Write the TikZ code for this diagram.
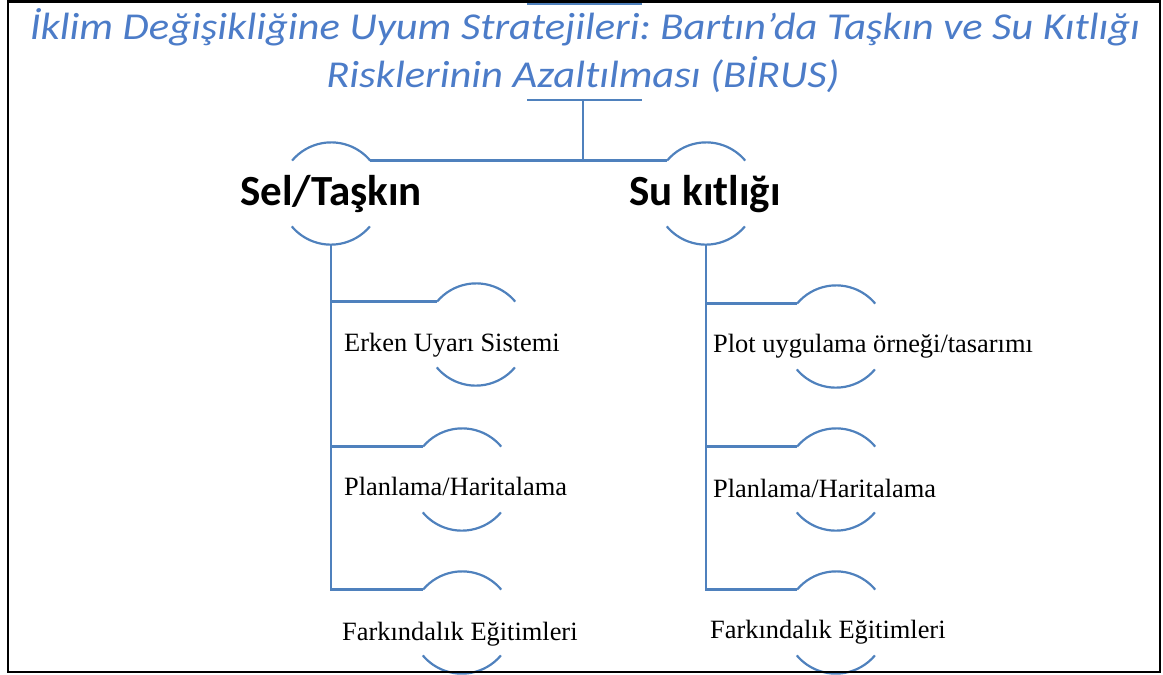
\documentclass[tikz,border=0pt]{standalone}
\usepackage{fontspec}
\setmainfont{Liberation Serif}
\newfontfamily\calibri[Ligatures=NoCommon]{Carlito}
\frenchspacing
\definecolor{lineblue}{RGB}{79,129,189}
\definecolor{titleblue}{RGB}{76,124,200}
\tikzset{
  conn/.style={draw=lineblue, line width=2.2pt},
  ring/.style={circle, minimum size=102pt, inner sep=0pt, draw=none},
  titletext/.style={font=\calibri\itshape\fontsize{38}{44}\selectfont, text=titleblue, anchor=base, inner sep=0pt, xscale=1.12},
  headtext/.style={font=\calibri\bfseries\fontsize{43}{50}\selectfont, anchor=base, inner sep=0pt},
  itemtext/.style={font=\fontsize{26.4}{30}\selectfont, anchor=base west, inner sep=0pt},
}
\begin{document}
\begin{tikzpicture}[x=1pt,y=-1pt]
\useasboundingbox (0,0) rectangle (1163,675);
% title
\node[titletext] (t1) at (585,39) {İklim Değişikliğine Uyum Stratejileri: Bartın’da Taşkın ve Su Kıtlığı};
\node[titletext] (t2) at (583,87) {Risklerinin Azaltılması (BİRUS)};
\coordinate (tbl) at (527,100);
\coordinate (tbr) at (642,100);
\coordinate (tbm) at (583,100);
\coordinate (ttl) at (527,3.5);
\coordinate (ttr) at (642,3.5);
\draw[conn] (ttl) -- (ttr);
\draw[conn] (tbl) -- (tbr);
% rings
\node[ring] (sel) at (331,193.5) {};
\node[ring] (su) at (706,193.5) {};
\node[ring] (l1) at (476,334.5) {};
\node[ring] (l2) at (462,479.5) {};
\node[ring] (l3) at (462,622.5) {};
\node[ring] (r1) at (836,336.5) {};
\node[ring] (r2) at (836,479.5) {};
\node[ring] (r3) at (836,622.5) {};
\foreach \n in {sel,su,l1,l2,l3,r1,r2,r3}{
  \draw[conn] (\n.40) arc[start angle=40, end angle=140, radius=51pt];
  \draw[conn] (\n.220) arc[start angle=220, end angle=320, radius=51pt];
}
% texts
\node[headtext] (selt) at (331,205) {Sel/Taşkın};
\node[headtext] (sut) at (705,205) {Su kıtlığı};
\node[itemtext] (l1t) at (344,351) {Erken Uyarı Sistemi};
\node[itemtext] (l2t) at (344,495) {Planlama/Haritalama};
\node[itemtext] (l3t) at (342,640) {Farkındalık Eğitimleri};
\node[itemtext] (r1t) at (713,352) {Plot uygulama örneği/tasarımı};
\node[itemtext] (r2t) at (713,497) {Planlama/Haritalama};
\node[itemtext] (r3t) at (710,638) {Farkındalık Eğitimleri};
% connectors
\draw[conn] (tbm) -- (tbm |- sel.40);
\draw[conn] (sel.40) -- (su.140);
\draw[conn] (sel.south) -- (sel.south |- l3.140) -- (l3.140);
\draw[conn] (sel.south |- l1.140) -- (l1.140);
\draw[conn] (sel.south |- l2.140) -- (l2.140);
\draw[conn] (su.south) -- (su.south |- r3.140) -- (r3.140);
\draw[conn] (su.south |- r1.140) -- (r1.140);
\draw[conn] (su.south |- r2.140) -- (r2.140);
% frame
\coordinate (fa) at (8,1.5);
\coordinate (fb) at (1160,672);
\draw[black, line width=2.2pt] (fa) rectangle (fb);
\end{tikzpicture}
\end{document}
